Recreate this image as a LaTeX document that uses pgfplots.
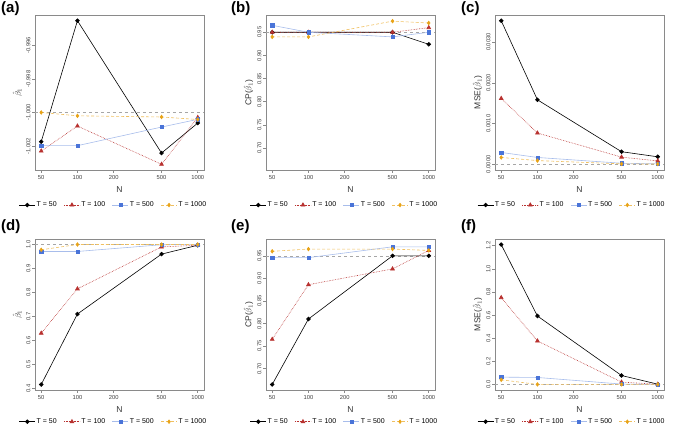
\documentclass[border=0pt]{standalone}
\usepackage{pgfplots}
\pgfplotsset{compat=1.18}
\usepackage{fontspec}
\setmainfont{Liberation Sans}
\setsansfont{Liberation Sans}
\definecolor{cred}{HTML}{B8312F}
\definecolor{cblue}{HTML}{4A74D8}
\definecolor{cbluel}{HTML}{A8BDEB}
\definecolor{corange}{HTML}{E8A317}
\definecolor{corangel}{HTML}{F0C060}
\definecolor{framec}{HTML}{8A8A8A}
\pgfplotsset{
 rstyle/.style={
  scale only axis, width=169pt, height=155pt,
  xmin=44.4, xmax=1127,
  xtick={50,100,200,500,1000}, xticklabels={50,100,200,500,1000},
  minor x tick style={draw=none},
  scaled y ticks=false,
  axis line style={draw=framec, line width=0.8pt},
  tick style={draw=framec, line width=0.6pt}, tick align=outside, major tick length=3pt,
  xtick pos=bottom, ytick pos=left,
  ticklabel style={font=\fontsize{5.8}{6}\selectfont, text=black!75},
  yticklabel style={rotate=90, anchor=south, inner sep=1.5pt},
  xticklabel style={inner sep=2.5pt},
  xlabel={N}, xlabel style={font=\fontsize{8.5}{9}\selectfont, text=black!80, yshift=-1pt},
  ylabel style={font=\fontsize{8.5}{9}\selectfont, text=black!80, yshift=-1pt},
  legend columns=4,
  legend style={draw=none, fill=none, at={(0.465,-0.226)}, anchor=center,
    font=\fontsize{7}{8}\selectfont, inner sep=0pt,
    /tikz/every even column/.append style={column sep=5pt},
    /tikz/every odd column/.append style={column sep=-1pt}},
  legend image code/.code={\draw[mark=none] (0pt,0pt) -- (16pt,0pt); \draw plot coordinates {(8pt,0pt)};},
  /pgf/number format/assume math mode=true,
 },
 t50/.style={black, line width=0.6pt, mark=*, mark size=1.9pt, mark options={solid, fill=black}},
 t100/.style={cred, densely dotted, line width=0.6pt, mark=triangle*, mark size=2.2pt, mark options={solid, fill=cred}},
 t500/.style={cbluel, line width=0.6pt, mark=square*, mark size=1.6pt, mark options={solid, draw=cblue, fill=cblue}},
 t1000/.style={corangel, densely dashed, line width=0.6pt, mark=diamond*, mark size=1.8pt, mark options={solid, draw=corange, fill=corange}},
 refl/.style={black!35, dashed, line width=0.5pt, forget plot},
}
\begin{document}
\begin{tikzpicture}
\path[use as bounding box] (0,0) rectangle (678pt,431pt);
% (a)
\begin{semilogxaxis}[rstyle, at={(35pt,261pt)}, anchor=south west,
  ymin=-1.00343, ymax=-0.99419,
  ytick={-1.002,-1.000,-0.998,-0.996}, yticklabels={-1.002,-1.000,-0.998,-0.996},
  ylabel={$\hat{\beta}_1$}]
\addplot[refl] coordinates {(44.4,-1) (1127,-1)};
\addplot[t50] coordinates {(50,-1.00174) (100,-0.99453) (500,-1.00242) (1000,-1.00063)};
\addplot[t100] coordinates {(50,-1.0023) (100,-1.00081) (500,-1.00309) (1000,-1.0003)};
\addplot[t500] coordinates {(50,-1.00198) (100,-1.00198) (500,-1.00087) (1000,-1.00041)};
\addplot[t1000] coordinates {(50,-1.0000) (100,-1.0002) (500,-1.00027) (1000,-1.00042)};
\legend{T = 50, T = 100, T = 500, T = 1000}
\end{semilogxaxis}
% (b)
\begin{semilogxaxis}[rstyle, at={(266pt,261pt)}, anchor=south west,
  ymin=0.6527, ymax=0.9873,
  ytick={0.70,0.75,0.80,0.85,0.90,0.95}, yticklabels={0.70,0.75,0.80,0.85,0.90,0.95},
  ylabel={CP($\hat{\beta}_1$)}]
\addplot[refl] coordinates {(44.4,0.95) (1127,0.95)};
\addplot[t50] coordinates {(50,0.95) (100,0.95) (500,0.95) (1000,0.924)};
\addplot[t100] coordinates {(50,0.95) (100,0.95) (500,0.95) (1000,0.96)};
\addplot[t500] coordinates {(50,0.965) (100,0.95) (500,0.94) (1000,0.95)};
\addplot[t1000] coordinates {(50,0.94) (100,0.94) (500,0.974) (1000,0.97)};
\legend{T = 50, T = 100, T = 500, T = 1000}
\end{semilogxaxis}
% (c)
\begin{semilogxaxis}[rstyle, at={(495pt,261pt)}, anchor=south west,
  ymin=-0.000141, ymax=0.003666,
  ytick={0,0.001,0.002,0.003}, yticklabels={0.0000,0.0010,0.0020,0.0030},
  ylabel={MSE($\hat{\beta}_1$)},
  legend style={at={(0.455,-0.226)}}]
\addplot[refl] coordinates {(44.4,0) (1127,0)};
\addplot[t50] coordinates {(50,0.003525) (100,0.001583) (500,0.000308) (1000,0.000183)};
\addplot[t100] coordinates {(50,0.001617) (100,0.000767) (500,0.000175) (1000,0.0000825)};
\addplot[t500] coordinates {(50,0.00029) (100,0.000167) (500,0.000025) (1000,0.00001)};
\addplot[t1000] coordinates {(50,0.000167) (100,0.00009) (500,0.00001) (1000,0.000005)};
\legend{T = 50, T = 100, T = 500, T = 1000}
\end{semilogxaxis}
% (d)
\begin{semilogxaxis}[rstyle, height=151pt, at={(35pt,41pt)}, anchor=south west,
  ymin=0.393, ymax=1.023,
  ytick={0.4,0.5,0.6,0.7,0.8,0.9,1.0}, yticklabels={0.4,0.5,0.6,0.7,0.8,0.9,1.0},
  ylabel={$\hat{\beta}_1$},
  legend style={at={(0.465,-0.21)}}]
\addplot[refl] coordinates {(44.4,1) (1127,1)};
\addplot[t50] coordinates {(50,0.416) (100,0.71) (500,0.96) (1000,0.997)};
\addplot[t100] coordinates {(50,0.63) (100,0.815) (500,0.99) (1000,0.997)};
\addplot[t500] coordinates {(50,0.971) (100,0.971) (500,0.999) (1000,1.0)};
\addplot[t1000] coordinates {(50,0.978) (100,1.0) (500,1.0) (1000,1.0)};
\legend{T = 50, T = 100, T = 500, T = 1000}
\end{semilogxaxis}
% (e)
\begin{semilogxaxis}[rstyle, height=151pt, at={(266pt,41pt)}, anchor=south west,
  ymin=0.6527, ymax=0.9873,
  ytick={0.70,0.75,0.80,0.85,0.90,0.95}, yticklabels={0.70,0.75,0.80,0.85,0.90,0.95},
  ylabel={CP($\hat{\beta}_1$)},
  legend style={at={(0.465,-0.21)}}]
\addplot[refl] coordinates {(44.4,0.95) (1127,0.95)};
\addplot[t50] coordinates {(50,0.665) (100,0.81) (500,0.95) (1000,0.95)};
\addplot[t100] coordinates {(50,0.765) (100,0.886) (500,0.921) (1000,0.962)};
\addplot[t500] coordinates {(50,0.946) (100,0.946) (500,0.97) (1000,0.97)};
\addplot[t1000] coordinates {(50,0.96) (100,0.965) (500,0.965) (1000,0.962)};
\legend{T = 50, T = 100, T = 500, T = 1000}
\end{semilogxaxis}
% (f)
\begin{semilogxaxis}[rstyle, height=151pt, at={(495pt,41pt)}, anchor=south west,
  ymin=-0.0484, ymax=1.2584,
  ytick={0,0.2,0.4,0.6,0.8,1.0,1.2}, yticklabels={0.0,0.2,0.4,0.6,0.8,1.0,1.2},
  ylabel={MSE($\hat{\beta}_1$)},
  legend style={at={(0.455,-0.21)}}]
\addplot[refl] coordinates {(44.4,0) (1127,0)};
\addplot[t50] coordinates {(50,1.21) (100,0.592) (500,0.077) (1000,0.002)};
\addplot[t100] coordinates {(50,0.751) (100,0.376) (500,0.02) (1000,0.001)};
\addplot[t500] coordinates {(50,0.063) (100,0.06) (500,0.003) (1000,0.0)};
\addplot[t1000] coordinates {(50,0.04) (100,0.0) (500,0.0) (1000,0.0)};
\legend{T = 50, T = 100, T = 500, T = 1000}
\end{semilogxaxis}
\node[font=\bfseries\fontsize{15}{16}\selectfont, anchor=north west, inner sep=0pt] at (1pt,430pt) {(a)};
\node[font=\bfseries\fontsize{15}{16}\selectfont, anchor=north west, inner sep=0pt] at (231pt,430pt) {(b)};
\node[font=\bfseries\fontsize{15}{16}\selectfont, anchor=north west, inner sep=0pt] at (461pt,430pt) {(c)};
\node[font=\bfseries\fontsize{15}{16}\selectfont, anchor=north west, inner sep=0pt] at (1pt,212pt) {(d)};
\node[font=\bfseries\fontsize{15}{16}\selectfont, anchor=north west, inner sep=0pt] at (231pt,212pt) {(e)};
\node[font=\bfseries\fontsize{15}{16}\selectfont, anchor=north west, inner sep=0pt] at (461pt,212pt) {(f)};
\end{tikzpicture}
\end{document}
